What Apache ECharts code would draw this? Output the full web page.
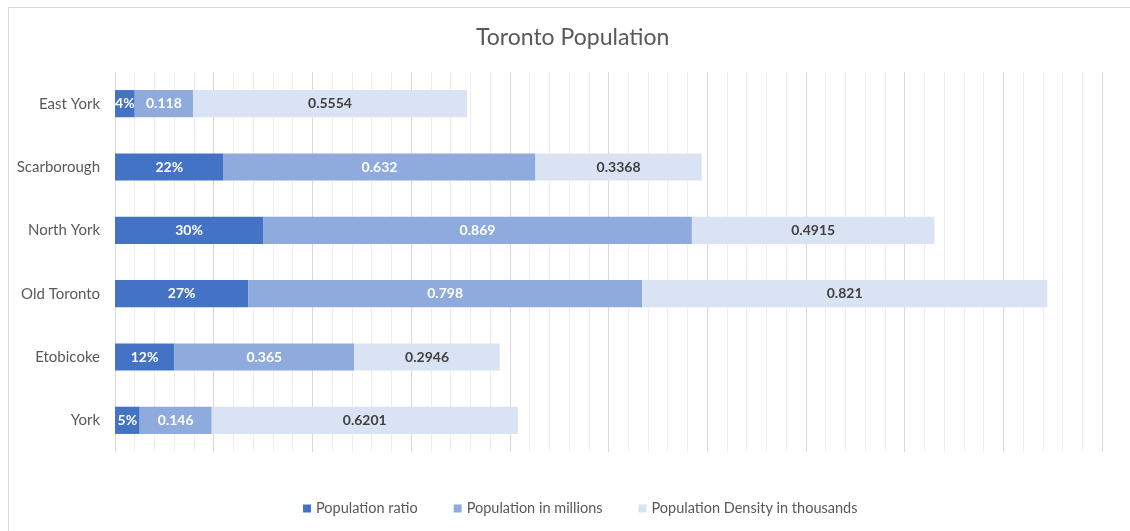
<!DOCTYPE html>
<html><head><meta charset="utf-8">
<script src="https://cdn.jsdelivr.net/npm/echarts@6/dist/echarts.min.js"></script>
<style>html,body{margin:0;padding:0;background:#fff}#c{width:1130px;height:531px}</style>
</head><body><div id="c"></div>
<script>
const categories = ['York','Etobicoke','Old Toronto','North York','Scarborough','East York'];
const ratio = [0.05, 0.12, 0.27, 0.30, 0.22, 0.04];
const millions = [0.146, 0.365, 0.798, 0.869, 0.632, 0.118];
const density = [0.6201, 0.2946, 0.821, 0.4915, 0.3368, 0.5554];
const seriesNames = ['Population ratio','Population in millions','Population Density in thousands'];

const font = 'Lato, "Open Sans", sans-serif';
const chart = echarts.init(document.getElementById('c'));
const lbl = (color, fmt) => ({show:true, position:'inside', color:color, fontFamily:font, fontSize:14, fontWeight:'bold', formatter:fmt});
chart.setOption({
  animation:false,
  graphic:[{type:'rect', shape:{x:8.5,y:7.5,width:1130,height:530}, style:{fill:'none', stroke:'#d9d9d9', lineWidth:1}, silent:true}],
  title:{text:'Toronto Population', left:471, top:21, textStyle:{fontFamily:font, fontSize:23, fontWeight:'normal', color:'#595959'}},
  legend:{bottom:10, left:298, itemWidth:8, itemHeight:8, itemGap:36, icon:'rect',
    textStyle:{fontFamily:font, fontSize:14.5, color:'#595959'}, data:seriesNames},
  grid:{left:115, right:28, top:72, bottom:79, containLabel:false},
  xAxis:{type:'value', min:0, max:2, interval:0.2,
    axisLabel:{show:false}, axisLine:{show:false}, axisTick:{show:false},
    splitLine:{show:true, lineStyle:{color:'#d9d9d9', width:1}},
    minorTick:{show:false, splitNumber:5},
    minorSplitLine:{show:true, lineStyle:{color:'#eeeeee', width:1}}},
  yAxis:{type:'category', data:categories, axisLine:{show:false}, axisTick:{show:false},
    axisLabel:{margin:15, fontFamily:font, fontSize:15, color:'#595959'}},
  series:[
    {name:seriesNames[0], type:'bar', stack:'a', data:ratio, barCategoryGap:'57%', itemStyle:{color:'#4472C4'},
      label:lbl('#ffffff', p => Math.round(p.value*100)+'%')},
    {name:seriesNames[1], type:'bar', stack:'a', data:millions, itemStyle:{color:'#8FAADC'},
      label:lbl('#ffffff', p => String(p.value))},
    {name:seriesNames[2], type:'bar', stack:'a', data:density, itemStyle:{color:'#DAE3F3'},
      label:lbl('#404040', p => String(p.value))}
  ]
});
</script></body></html>
